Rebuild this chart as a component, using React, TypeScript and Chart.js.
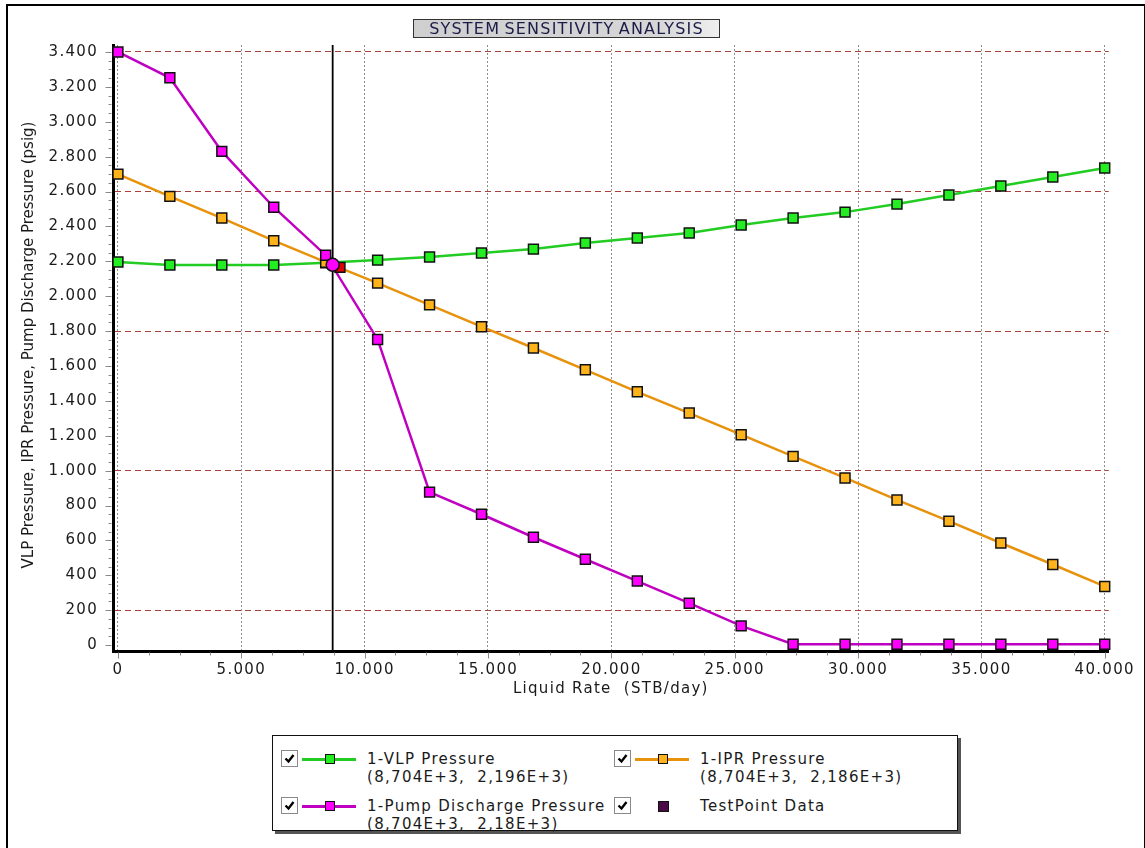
import React, { useEffect, useRef } from 'react';
import { Chart, registerables } from 'chart.js';

Chart.register(...registerables);

// ---------- data ----------
const liquidRate = [0, 2105, 4211, 6316, 8421, 10526, 12632, 14737, 16842, 18947, 21053, 23158, 25263, 27368, 29474, 31579, 33684, 35789, 37895, 40000];
const vlpPressure = [2196, 2179, 2179, 2179, 2192, 2207, 2225, 2248, 2270, 2305, 2334, 2362, 2408, 2448, 2482, 2528, 2580, 2632, 2683, 2735];
const iprPressure = [2700, 2572, 2448, 2318, 2195, 2075, 1950, 1825, 1703, 1578, 1452, 1330, 1206, 1082, 958, 832, 710, 585, 462, 336];
const pumpPressure = [3400, 3252, 2830, 2510, 2235, 1752, 877, 750, 618, 492, 367, 240, 110, 5, 5, 5, 5, 5, 5, 5];

const solutionRate = [8704];
const solutionPressure = [2180];
const markerRate = [9000];
const markerPressure = [2165];

const xTickValues = [0, 5000, 10000, 15000, 20000, 25000, 30000, 35000, 40000];
const yTickValues = [0, 200, 400, 600, 800, 1000, 1200, 1400, 1600, 1800, 2000, 2200, 2400, 2600, 2800, 3000, 3200, 3400];
const yGridValues = [200, 1000, 1800, 2600, 3400];

const chartTitle = 'SYSTEM SENSITIVITY ANALYSIS';
const xTitle = 'Liquid Rate  (STB/day)';
const yTitle = 'VLP Pressure, IPR Pressure, Pump Discharge Pressure (psig)';

const legendLabels = ['1-VLP Pressure', '1-IPR Pressure', '1-Pump Discharge Pressure', 'TestPoint Data'];
const legendValues = ['(8,704E+3,  2,196E+3)', '(8,704E+3,  2,186E+3)', '(8,704E+3,  2,18E+3)', ''];

// ---------- styles ----------
const FONT = '"DejaVu Sans", Verdana, sans-serif';
const TEXT = '#1a1a1a';
const SPACING = '1.3px';
const VLP_LINE = '#22cc22';
const VLP_FILL = '#22ee22';
const IPR_LINE = '#e8920c';
const IPR_FILL = '#ffb31a';
const PUMP_LINE = '#c000c0';
const PUMP_FILL = '#ff00ff';
const TEST_FILL = '#4a0a45';

const legendLine = [VLP_LINE, IPR_LINE, PUMP_LINE, null];
const legendFill = [VLP_FILL, IPR_FILL, PUMP_FILL, TEST_FILL];

const fmt = (v: number) => String(v).replace(/\B(?=(\d{3})+(?!\d))/g, '.');
const pts = (xs: number[], ys: number[]) => xs.map((x, i) => ({ x, y: ys[i] }));

const overlayPlugin = {
  id: 'overlay',
  beforeLayout(chart: any) {
    chart.ctx.letterSpacing = SPACING;
  },
  beforeDraw(chart: any) {
    chart.ctx.letterSpacing = SPACING;
  },
  beforeDatasetsDraw(chart: any) {
    const { ctx, chartArea, scales } = chart;
    const px = scales.x.getPixelForValue(solutionRate[0]);
    ctx.save();
    ctx.setLineDash([]);
    ctx.strokeStyle = '#000';
    ctx.lineWidth = 1.8;
    ctx.beginPath();
    ctx.moveTo(px, chartArea.top);
    ctx.lineTo(px, chartArea.bottom);
    ctx.stroke();
    ctx.restore();
  },
  afterDraw(chart: any) {
    const { ctx, chartArea, scales } = chart;
    const xs = scales.x;
    const ys = scales.y;
    ctx.save();
    ctx.strokeStyle = '#8a8a8a';
    ctx.lineWidth = 1;
    ctx.setLineDash([]);
    ctx.beginPath();
    for (let v = 0; v <= ys.max; v += 50) {
      const py = Math.round(ys.getPixelForValue(v)) + 0.5;
      const len = v % 200 === 0 ? 6 : 3;
      ctx.moveTo(chartArea.left - 1.5 - len, py);
      ctx.lineTo(chartArea.left - 1.5, py);
    }
    for (let v = 0; v <= xs.max; v += 1250) {
      const px = Math.round(xs.getPixelForValue(v)) + 0.5;
      const len = v % 5000 === 0 ? 6 : 3;
      ctx.moveTo(px, chartArea.bottom + 1.5);
      ctx.lineTo(px, chartArea.bottom + 1.5 + len);
    }
    ctx.stroke();

    ctx.letterSpacing = '0px';
    ctx.fillStyle = TEXT;
    ctx.font = `15px ${FONT}`;
    ctx.textAlign = 'center';
    ctx.textBaseline = 'middle';
    ctx.translate(29, (chartArea.top + chartArea.bottom) / 2 - 3);
    ctx.rotate(-Math.PI / 2);
    ctx.fillText(yTitle, 0, 0);
    ctx.restore();
  },
};

function ChartCanvas() {
  const ref = useRef<HTMLCanvasElement | null>(null);
  useEffect(() => {
    if (!ref.current) return;
    const pointBase = {
      pointStyle: 'rect',
      pointRadius: 7,
      pointHoverRadius: 7,
      pointBorderColor: '#111',
      pointBorderWidth: 1.5,
      borderWidth: 2.5,
      tension: 0,
      clip: false as any,
    };
    const chart = new Chart(ref.current, {
      type: 'line',
      data: {
        datasets: [
          {
            label: 'solution',
            data: pts(solutionRate, solutionPressure),
            showLine: false,
            pointStyle: 'circle',
            pointRadius: 6.5,
            pointBackgroundColor: PUMP_FILL,
            pointBorderColor: '#111',
            pointBorderWidth: 1.5,
            order: 0,
            clip: false as any,
          },
          {
            label: 'marker',
            data: pts(markerRate, markerPressure),
            showLine: false,
            pointStyle: 'rect',
            pointRadius: 7,
            pointBackgroundColor: '#e00000',
            pointBorderColor: '#111',
            pointBorderWidth: 1.5,
            order: 1,
            clip: false as any,
          },
          {
            ...pointBase,
            label: legendLabels[2],
            data: pts(liquidRate, pumpPressure),
            borderColor: PUMP_LINE,
            pointBackgroundColor: PUMP_FILL,
            order: 2,
          },
          {
            ...pointBase,
            label: legendLabels[1],
            data: pts(liquidRate, iprPressure),
            borderColor: IPR_LINE,
            pointBackgroundColor: IPR_FILL,
            order: 3,
          },
          {
            ...pointBase,
            label: legendLabels[0],
            data: pts(liquidRate, vlpPressure),
            borderColor: VLP_LINE,
            pointBackgroundColor: VLP_FILL,
            order: 4,
          },
        ] as any,
      },
      options: {
        responsive: false,
        animation: false,
        events: [],
        devicePixelRatio: 1,
        layout: { padding: { top: 45, right: 32, left: 0, bottom: 0 } },
        plugins: { legend: { display: false }, title: { display: false }, tooltip: { enabled: false } },
        scales: {
          x: {
            type: 'linear',
            min: -200,
            max: 40160,
            afterBuildTicks: (s: any) => {
              s.ticks = xTickValues.map((value) => ({ value }));
            },
            afterFit: (s: any) => {
              s.height = 49;
            },
            border: { display: true, color: '#000', width: 3, dash: [2, 2] },
            grid: { color: '#8c8c8c', lineWidth: 1, drawTicks: false },
            ticks: {
              autoSkip: false,
              maxRotation: 0,
              padding: 10,
              color: TEXT,
              font: { family: FONT, size: 15 },
              callback: (v: any) => fmt(Number(v)),
            },
            title: {
              display: true,
              text: xTitle,
              color: TEXT,
              font: { family: FONT, size: 15 },
              padding: { top: 0, bottom: 2 },
            },
          },
          y: {
            type: 'linear',
            min: -34,
            max: 3440,
            afterBuildTicks: (s: any) => {
              s.ticks = yTickValues.map((value) => ({ value }));
            },
            afterFit: (s: any) => {
              s.width = 113;
            },
            border: { display: true, color: '#000', width: 3, dash: [6, 4] },
            grid: {
              color: (c: any) => (c.tick && yGridValues.includes(c.tick.value) ? '#a8403c' : 'rgba(0,0,0,0)'),
              lineWidth: 1,
              drawTicks: false,
            },
            ticks: {
              padding: 15,
              color: TEXT,
              font: { family: FONT, size: 15 },
              callback: (v: any) => fmt(Number(v)),
            },
            title: { display: false },
          },
        },
      } as any,
      plugins: [overlayPlugin],
    });
    return () => chart.destroy();
  }, []);
  return (
    <canvas
      ref={ref}
      width={1145}
      height={700}
      style={{ position: 'absolute', left: 0, top: 0, width: 1145, height: 700 }}
    />
  );
}

function CheckBox({ left, top }: { left: number; top: number }) {
  return (
    <div
      style={{
        position: 'absolute',
        left,
        top,
        width: 15,
        height: 15,
        border: '1px solid #8a8a8a',
        background: '#fff',
      }}
    >
      <svg width={15} height={15} style={{ position: 'absolute', left: 0, top: 0 }}>
        <polyline points="3.5,7.5 6.5,10.5 11.5,4" fill="none" stroke="#000" strokeWidth={2.4} />
      </svg>
    </div>
  );
}

function Legend() {
  const colX = [0, 333];
  const rowY = [0, 47];
  return (
    <div
      style={{
        position: 'absolute',
        left: 272,
        top: 735,
        width: 684,
        height: 94,
        border: '1px solid #111',
        background: '#fff',
        boxShadow: '3px 3px 0 #555',
        fontFamily: FONT,
        fontSize: 15,
        letterSpacing: SPACING,
        color: TEXT,
      }}
    >
      {legendLabels.map((label, i) => {
        const ex = colX[i % 2];
        const ey = rowY[Math.floor(i / 2)];
        const line = legendLine[i];
        return (
          <React.Fragment key={label}>
            <CheckBox left={ex + 8} top={ey + 14} />
            {line && (
              <div
                style={{
                  position: 'absolute',
                  left: ex + 29,
                  top: ey + 22,
                  width: 54,
                  height: 2.5,
                  background: line,
                }}
              />
            )}
            <div
              style={{
                position: 'absolute',
                left: ex + 52,
                top: ey + 18,
                width: i === 3 ? 9 : 8,
                height: i === 3 ? 9 : 8,
                background: legendFill[i],
                border: '1px solid #111',
              }}
            />
            <div
              style={{
                position: 'absolute',
                left: ex + 94,
                top: ey + 14,
                lineHeight: '18px',
                whiteSpace: 'pre',
              }}
            >
              {label}
              {legendValues[i] ? '\n' + legendValues[i] : ''}
            </div>
          </React.Fragment>
        );
      })}
    </div>
  );
}

export default function App() {
  return (
    <div
      style={{
        position: 'fixed',
        left: 0,
        top: 0,
        width: 1145,
        height: 848,
        overflow: 'hidden',
        background: '#fff',
      }}
    >
      <div
        style={{
          position: 'absolute',
          left: 6,
          top: 4,
          width: 1136,
          height: 860,
          border: '2px solid #000',
        }}
      />
      <ChartCanvas />
      <div
        style={{
          position: 'absolute',
          left: 413,
          top: 19,
          width: 305,
          height: 17,
          border: '1px solid #333',
          background: 'linear-gradient(to right, #cfcfcf 0%, #d6d6d6 80%, #efefef 100%)',
          fontFamily: FONT,
          fontSize: 16,
          lineHeight: '17px',
          letterSpacing: '1.2px',
          wordSpacing: '-2px',
          color: '#1c1c4a',
          textAlign: 'center',
          whiteSpace: 'nowrap',
        }}
      >
        {chartTitle}
      </div>
      <Legend />
    </div>
  );
}
